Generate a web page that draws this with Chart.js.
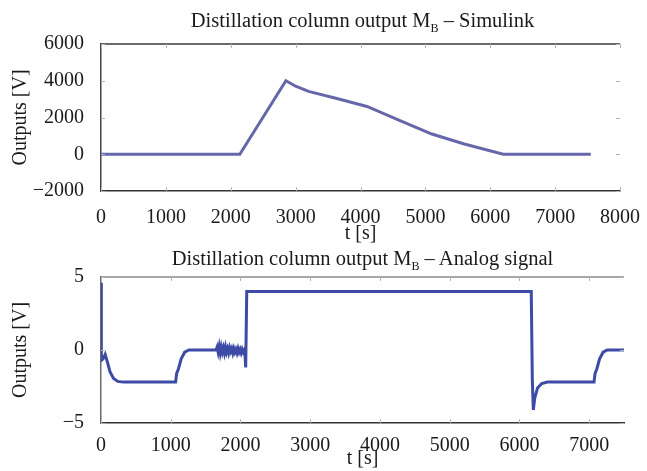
<!DOCTYPE html>
<html>
<head>
<meta charset="utf-8">
<script src="https://cdn.jsdelivr.net/npm/chart.js@4/dist/chart.umd.min.js"></script>
<style>
  body { margin: 0; background: #fff; }
  #page { position: relative; width: 647px; height: 471px; overflow: hidden;
          font-family: "Liberation Serif", "Times New Roman", serif; color: #1a1a1a; }
  .box { position: absolute; left: 0; width: 647px; }
  .ttl { position: absolute; left: 101px; width: 523px; text-align: center;
         font-size: 20.5px; line-height: 20px; white-space: nowrap; }
  .ttl sub { font-size: 12px; vertical-align: -5px; line-height: 0; }
</style>
</head>
<body>
<div id="page">
  <div class="box" style="top:0;height:250px"><canvas id="simChart"></canvas></div>
  <div class="box" style="top:235px;height:236px"><canvas id="anaChart"></canvas></div>
  <div class="ttl" style="top:10px">Distillation column output M<sub>B</sub> – Simulink</div>
  <div class="ttl" style="top:248px">Distillation column output M<sub>B</sub> – Analog signal</div>
</div>
<script>
// Simulink output (top plot)
const simT = [0, 2140, 2850, 3000, 3200, 3650, 4100, 4600, 5100, 5600, 6200, 7550];
const simV = [0, 0, 4000, 3700, 3420, 3020, 2600, 1850, 1100, 560, 0, 0];
const simXTicks = [0, 1000, 2000, 3000, 4000, 5000, 6000, 7000, 8000];
const simYTicks = [-2000, 0, 2000, 4000, 6000];

// Analog signal (bottom plot)
const anaT = [0, 5, 30, 60, 90, 130, 180, 240, 320, 1070, 1085, 1110, 1150, 1200, 1260,
  1650, 1665, 1680, 1695, 1710, 1725, 1740, 1755, 1770, 1785, 1800, 1815, 1830, 1845, 1860,
  1875, 1890, 1905, 1920, 1935, 1950, 1965, 1980, 1995, 2010, 2025, 2040, 2055, 2065,
  2075, 2090, 6170, 6185, 6200, 6220, 6260, 6320, 6400, 7070, 7085, 7110, 7150, 7200, 7260, 7500];
const anaV = [4.6, -0.7, -0.6, -0.3, -0.8, -1.5, -1.95, -2.15, -2.2, -2.2, -1.6, -1.3, -0.6, -0.15, 0,
  0, 0.2, -0.15, 0.25, -0.2, 0.2, -0.15, 0.15, -0.2, 0.2, -0.15, 0.1, -0.2, 0.15, -0.1,
  0.1, -0.2, 0.1, -0.15, 0.05, -0.2, 0.1, -0.15, 0.05, -0.2, 0.05, -0.15, 0, -0.3,
  -1.2, 4, 4, -2, -4.1, -3.3, -2.6, -2.3, -2.2, -2.2, -1.6, -1.3, -0.6, -0.15, 0, 0];
const anaXTicks = [0, 1000, 2000, 3000, 4000, 5000, 6000, 7000];
const anaYTicks = [-5, 0, 5];

Chart.defaults.font.family = '"Liberation Serif", "Times New Roman", serif';
Chart.defaults.font.size = 20;
Chart.defaults.color = '#1a1a1a';

const fmt = v => (v < 0 ? '\u2212' + Math.abs(v) : String(v));

// top border line and little inward tick marks
const framePlugin = {
  id: 'frame',
  afterDraw(chart, args, opts) {
    const { ctx, chartArea: a, scales: { x, y } } = chart;
    ctx.save();
    ctx.strokeStyle = opts.topColor;
    ctx.lineWidth = 1.5;
    ctx.beginPath();
    ctx.moveTo(a.left, a.top);
    ctx.lineTo(a.right, a.top);
    ctx.stroke();
    ctx.strokeStyle = '#b5b5b5';
    ctx.lineWidth = 1;
    ctx.beginPath();
    x.ticks.forEach(t => {
      const px = Math.round(x.getPixelForValue(t.value)) + 0.5;
      ctx.moveTo(px, a.top); ctx.lineTo(px, a.top + 4);
      ctx.moveTo(px, a.bottom); ctx.lineTo(px, a.bottom - 4);
    });
    y.ticks.forEach(t => {
      const py = Math.round(y.getPixelForValue(t.value)) + 0.5;
      ctx.moveTo(a.left, py); ctx.lineTo(a.left + 4, py);
      ctx.moveTo(a.right, py); ctx.lineTo(a.right - 4, py);
    });
    ctx.stroke();
    ctx.restore();
  }
};

function makeChart(id, t, v, cfg) {
  return new Chart(document.getElementById(id), {
    type: 'line',
    data: {
      datasets: [{
        data: t.map((x, i) => ({ x: x, y: v[i] })),
        borderColor: cfg.lineColor,
        borderWidth: 3,
        pointRadius: 0,
        tension: 0,
      }],
    },
    options: {
      responsive: true,
      maintainAspectRatio: false,
      animation: false,
      layout: { padding: { top: cfg.top, left: 5, right: 23, bottom: cfg.bottom } },
      plugins: {
        legend: { display: false },
        tooltip: { enabled: false },
        frame: { topColor: cfg.topColor },
      },
      scales: {
        x: {
          type: 'linear',
          min: cfg.xMin, max: cfg.xMax,
          grid: { display: false },
          border: { display: true, color: '#333', width: 1.5 },
          ticks: { padding: cfg.xPad, maxRotation: 0, callback: fmt },
          afterBuildTicks: s => { s.ticks = cfg.xTicks.map(value => ({ value })); },
          afterFit: s => { s.height = cfg.xHeight; },
          title: { display: true, text: 't [s]', padding: { top: 0, bottom: 0 } },
        },
        y: {
          min: cfg.yMin, max: cfg.yMax,
          grid: { display: false },
          border: { display: true, color: cfg.leftColor, width: 1.5 },
          ticks: { padding: 9, callback: fmt },
          afterBuildTicks: s => { s.ticks = cfg.yTicks.map(value => ({ value })); },
          afterFit: s => { s.width = 96; },
          title: { display: true, text: 'Outputs [V]', padding: { top: 4, bottom: 0 } },
        },
      },
    },
    plugins: [framePlugin],
  });
}

makeChart('simChart', simT, simV, {
  lineColor: '#6667aa', topColor: '#3a3a3a', leftColor: '#444',
  top: 44, bottom: 4, xHeight: 55, xPad: 7,
  xMin: 0, xMax: 8000, yMin: -2000, yMax: 6000,
  xTicks: simXTicks, yTicks: simYTicks,
});

makeChart('anaChart', anaT, anaV, {
  lineColor: '#3d4aa6', topColor: '#8a8a8a', leftColor: '#6a6a6a',
  top: 42, bottom: 0, xHeight: 48, xPad: 3,
  xMin: 0, xMax: 7500, yMin: -5, yMax: 5,
  xTicks: anaXTicks, yTicks: anaYTicks,
});
</script>
</body>
</html>
